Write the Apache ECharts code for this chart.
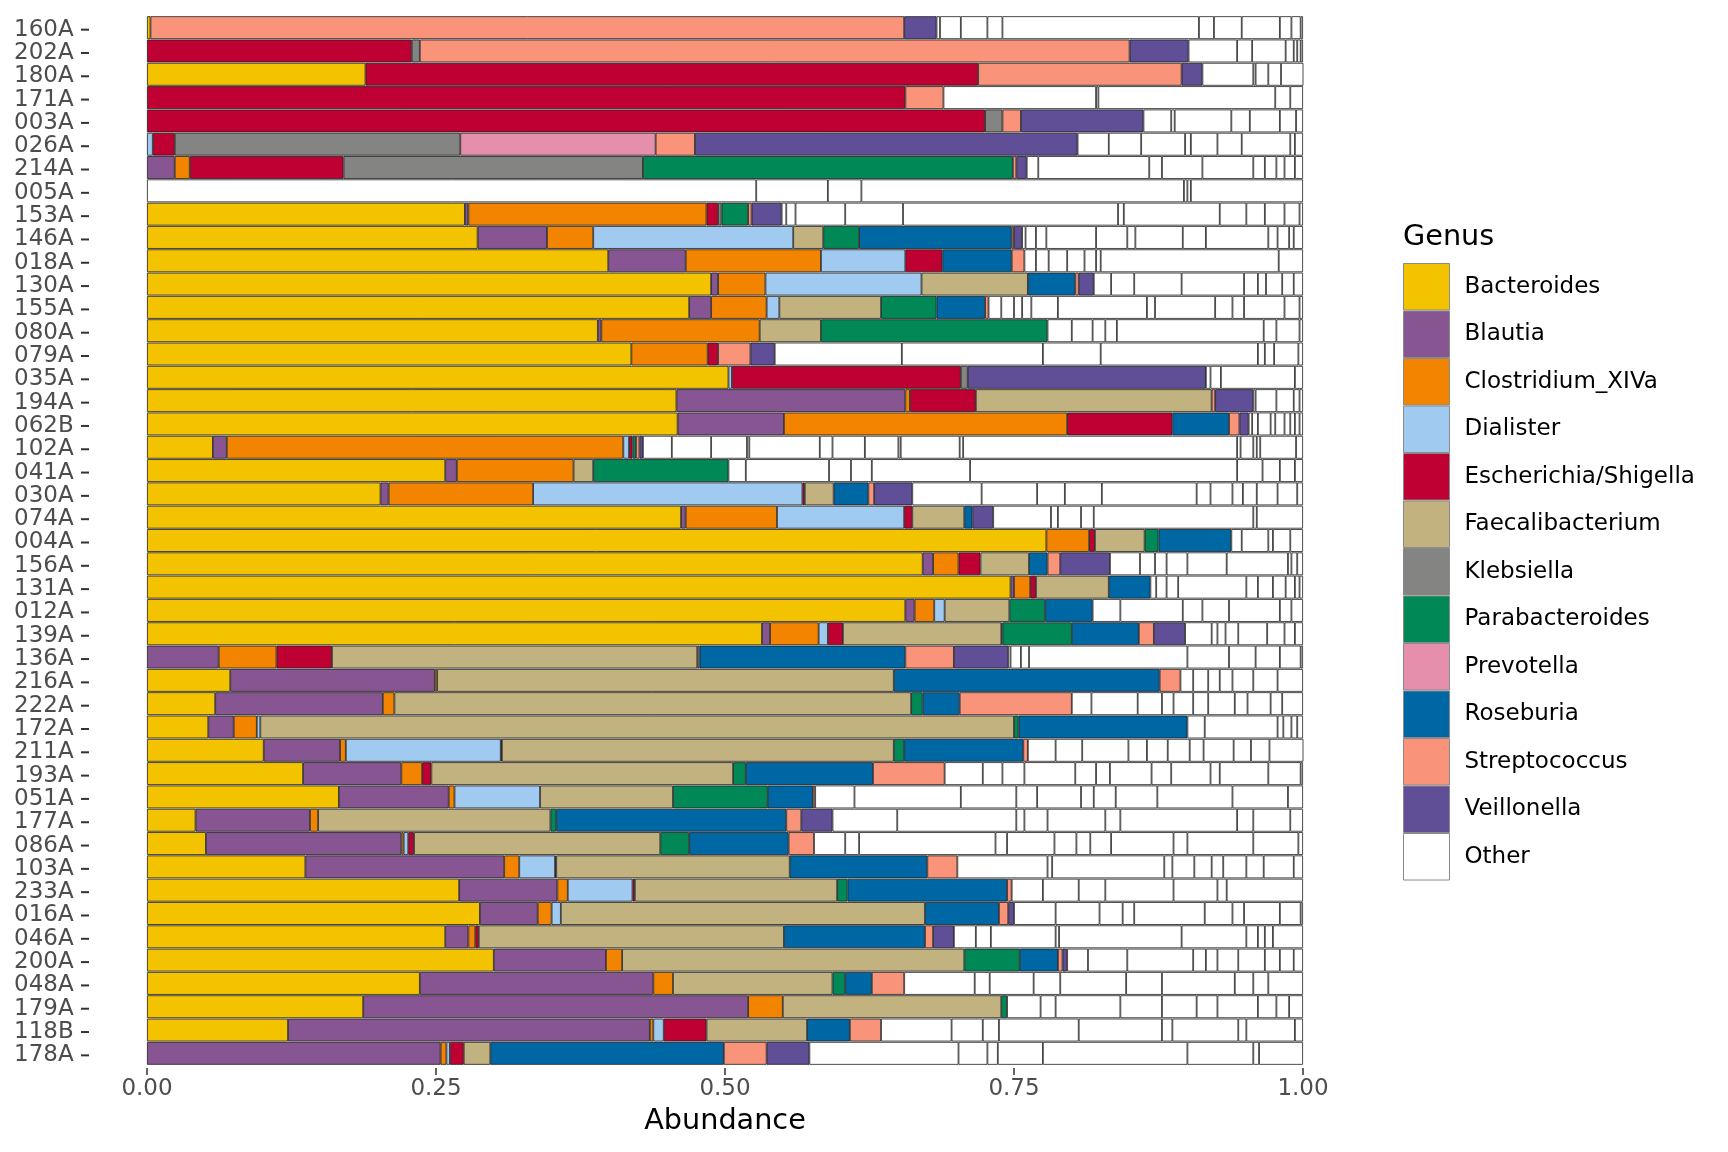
<!DOCTYPE html>
<html>
<head>
<meta charset="utf-8">
<script src="https://cdn.jsdelivr.net/npm/echarts@6/dist/echarts.min.js"></script>
<style>
  html, body { margin: 0; padding: 0; background: #fff; }
  #chart { width: 1728px; height: 1152px; }
</style>
</head>
<body>
<div id="chart"></div>
<script>
// samples, top to bottom
var samples = ['160A','202A','180A','171A','003A','026A','214A','005A','153A','146A',
  '018A','130A','155A','080A','079A','035A','194A','062B','102A','041A',
  '030A','074A','004A','156A','131A','012A','139A','136A','216A','222A',
  '172A','211A','193A','051A','177A','086A','103A','233A','016A','046A',
  '200A','048A','179A','118B','178A'];

var genera = ['Bacteroides','Blautia','Clostridium_XIVa','Dialister','Escherichia/Shigella',
  'Faecalibacterium','Klebsiella','Parabacteroides','Prevotella','Roseburia',
  'Streptococcus','Veillonella'];
var generaColors = ['#F3C300','#875692','#F38400','#A1CAF1','#BE0032','#C2B280',
  '#848482','#008856','#E68FAC','#0067A5','#F99379','#604E97'];

var bacteroides = [0.003,0,0.189,0,0,0,0,0,0.275,0.286,0.399,0.488,0.469,0.390,0.419,0.503,0.458,0.459,0.057,0.258,
  0.202,0.462,0.778,0.671,0.747,0.656,0.532,0,0.072,0.059,0.053,0.101,0.135,0.166,0.042,0.051,0.137,0.270,0.288,0.258,
  0.300,0.236,0.187,0.122,0];
var blautia = [0,0,0,0,0,0,0.024,0,0.003,0.060,0.067,0.006,0.019,0.003,0,0,0.198,0.092,0.012,0.010,
  0.007,0.004,0,0.009,0.003,0.008,0.007,0.062,0.177,0.145,0.022,0.066,0.085,0.095,0.099,0.169,0.172,0.085,0.050,0.020,
  0.097,0.202,0.333,0.313,0.254];
var clostridium = [0,0,0,0,0,0,0.013,0,0.206,0.040,0.117,0.041,0.048,0.137,0.066,0,0.004,0.245,0.343,0.101,
  0.125,0.079,0.037,0.022,0.014,0.017,0.042,0.050,0.002,0.010,0.020,0.005,0.018,0.005,0.007,0.002,0.013,0.009,0.012,0.006,
  0.014,0.017,0.030,0.003,0.005];
var dialister = [0,0,0,0,0,0.005,0,0,0,0.173,0.073,0.135,0.011,0,0,0.003,0,0,0.005,0,
  0.233,0.110,0,0,0,0.009,0.008,0,0,0,0.003,0.134,0,0.074,0,0.004,0.031,0.056,0.008,0,
  0,0,0,0.009,0.003];
var escherichia = [0,0.229,0.530,0.656,0.725,0.019,0.133,0,0.010,0,0.032,0,0,0,0.009,0.198,0.057,0.091,0.003,0,
  0.002,0.007,0.005,0.019,0.005,0,0.013,0.048,0,0,0,0.001,0.008,0,0,0.005,0.001,0.002,0,0.003,
  0,0,0,0.037,0.012];
var faecalibacterium = [0,0,0,0,0,0,0,0,0,0.026,0,0.092,0.088,0.053,0,0,0.204,0,0,0.017,
  0.025,0.045,0.043,0.042,0.063,0.056,0.137,0.316,0.395,0.447,0.652,0.339,0.261,0.115,0.201,0.213,0.202,0.175,0.315,0.264,
  0.296,0.138,0.189,0.087,0.023];
var klebsiella = [0,0.007,0,0,0.015,0.247,0.259,0,0.003,0,0,0,0,0,0,0.006,0,0,0,0,
  0,0,0,0,0,0,0.001,0.002,0,0,0,0,0,0,0,0,0,0,0,0,
  0,0,0,0,0];
var parabacteroides = [0,0,0,0,0,0,0.320,0,0.023,0.031,0,0,0.048,0.196,0,0,0,0,0.003,0.117,
  0,0,0.012,0,0,0.031,0.060,0,0,0.010,0.004,0.009,0.011,0.082,0.005,0.025,0,0.009,0,0,
  0.048,0.011,0.005,0,0];
var prevotella = [0,0,0,0,0,0.169,0,0,0,0,0,0,0,0,0,0,0,0,0,0,
  0,0,0,0,0,0,0,0,0,0,0,0,0,0,0,0,0,0,0,0,
  0,0,0,0,0];
var roseburia = [0,0,0,0,0,0,0,0,0,0.132,0.060,0.041,0.042,0,0,0,0,0.049,0,0,
  0.030,0.007,0.063,0.016,0.036,0.041,0.058,0.178,0.230,0.032,0.146,0.103,0.110,0.039,0.199,0.086,0.119,0.138,0.064,0.122,
  0.033,0.023,0,0.037,0.202];
var streptococcus = [0.652,0.614,0.176,0.033,0.016,0.034,0.003,0,0.003,0.002,0.011,0.003,0.003,0,0.028,0,0.003,0.009,0.003,0,
  0.005,0,0,0.011,0,0,0.013,0.042,0.018,0.097,0,0.004,0.062,0.002,0.013,0.022,0.026,0.004,0.008,0.007,
  0.004,0.028,0,0.027,0.037];
var veillonella = [0.028,0.051,0.018,0,0.106,0.331,0.009,0,0.026,0.007,0,0.013,0,0,0.021,0.206,0.033,0.008,0.003,0,
  0.033,0.018,0,0.043,0,0,0.027,0.047,0,0,0,0,0,0,0.027,0,0,0,0.005,0.018,
  0.004,0,0,0,0.037];

// the many small "Other" genera of each sample, left to right
var otherParts = [
  [0.003,0.018,0.023,0.013,0.170,0.013,0.024,0.033,0.010,0.008,0.002],
  [0.042,0.013,0.029,0.007,0.003,0.003,0.002],
  [0.044,0.002,0.011,0.011,0.020],
  [0.132,0.002,0.153,0.013,0.011],
  [0.024,0.003,0.049,0.016,0.026,0.014,0.006],
  [0.027,0.028,0.038,0.005,0.023,0.021,0.042,0.004,0.007],
  [0.010,0.096,0.011,0.035,0.044,0.010,0.010,0.007,0.009,0.007],
  [0.527,0.062,0.029,0.279,0.003,0.003,0.097],
  [0.004,0.008,0.043,0.050,0.186,0.005,0.083,0.023,0.016,0.017,0.013,0.003],
  [0.003,0.009,0.009,0.043,0.027,0.007,0.041,0.020,0.054,0.008,0.010,0.004,0.008],
  [0.010,0.011,0.016,0.015,0.010,0.004,0.154,0.021],
  [0.015,0.020,0.041,0.054,0.012,0.007,0.014,0.010,0.008],
  [0.011,0.011,0.007,0.008,0.023,0.077,0.007,0.052,0.015,0.010,0.035,0.013,0.003],
  [0.021,0.018,0.011,0.010,0.127,0.011,0.020,0.003],
  [0.110,0.122,0.050,0.136,0.006,0.008,0.021,0.004],
  [0.004,0.009,0.064,0.007],
  [0.002,0.018,0.015,0.005,0.003],
  [0.003,0.005,0.011,0.004,0.008,0.005,0.004,0.004,0.003],
  [0.025,0.034,0.031,0.002,0.061,0.011,0.028,0.029,0.002,0.051,0.003,0.237,0.003,0.011,0.003,0.003,0.031,0.006],
  [0.015,0.072,0.019,0.018,0.085,0.231,0.022,0.015,0.013,0.007],
  [0.060,0.048,0.024,0.032,0.082,0.012,0.019,0.009,0.012,0.018,0.017,0.005],
  [0.050,0.006,0.020,0.011,0.138,0.003,0.040],
  [0.009,0.023,0.004,0.015,0.011],
  [0.026,0.013,0.010,0.018,0.034,0.053,0.003,0.005,0.005],
  [0.005,0.009,0.010,0.059,0.010,0.013,0.011,0.008,0.004,0.003],
  [0.024,0.054,0.017,0.023,0.044,0.010,0.010],
  [0.023,0.005,0.007,0.011,0.025,0.015,0.009,0.007],
  [0.002,0.009,0.007,0.137,0.036,0.023,0.021,0.018,0.002],
  [0.011,0.013,0.010,0.011,0.018,0.021,0.022],
  [0.017,0.040,0.021,0.010,0.017,0.013,0.023,0.011,0.020,0.010,0.018],
  [0.015,0.063,0.005,0.007,0.005,0.005],
  [0.024,0.023,0.040,0.016,0.018,0.019,0.012,0.026,0.015,0.016,0.030],
  [0.033,0.017,0.019,0.044,0.018,0.012,0.036,0.017,0.034,0.008,0.042,0.028,0.002],
  [0.034,0.092,0.048,0.018,0.038,0.011,0.019,0.036,0.065,0.048,0.013],
  [0.056,0.103,0.007,0.020,0.050,0.013,0.101,0.014,0.032,0.011],
  [0.027,0.012,0.118,0.010,0.041,0.019,0.012,0.018,0.054,0.012,0.057,0.039,0.004],
  [0.078,0.004,0.097,0.007,0.019,0.015,0.010,0.020,0.015,0.026,0.008],
  [0.027,0.031,0.023,0.059,0.038,0.008,0.066],
  [0.036,0.038,0.020,0.010,0.061,0.024,0.010,0.031,0.018,0.002],
  [0.019,0.013,0.056,0.003,0.106,0.056,0.010,0.006,0.007,0.026],
  [0.018,0.034,0.057,0.011,0.010,0.018,0.023,0.013,0.012,0.008],
  [0.061,0.013,0.038,0.023,0.057,0.031,0.063,0.016,0.013,0.030],
  [0.029,0.013,0.056,0.036,0.030,0.018,0.035,0.016,0.011,0.012],
  [0.061,0.027,0.014,0.069,0.072,0.009,0.057,0.007,0.042,0.007],
  [0.129,0.025,0.009,0.039,0.125,0.057,0.005,0.038]
];

var xTicks = [0, 0.25, 0.5, 0.75, 1];

var genusValues = [bacteroides, blautia, clostridium, dialister, escherichia, faecalibacterium,
  klebsiella, parabacteroides, prevotella, roseburia, streptococcus, veillonella];

var FONT = 'DejaVu Sans';
var BORDER = '#1e1e1e';
var BORDER_W = 0.8;

function noZero(arr) {
  return arr.map(function (v) { return v > 0 ? v : null; });
}

var series = [];
genera.forEach(function (g, i) {
  series.push({
    name: g,
    type: 'bar',
    stack: 'abund',
    barCategoryGap: '2%',
    data: noZero(genusValues[i]),
    itemStyle: { color: generaColors[i], borderColor: BORDER, borderWidth: BORDER_W }
  });
});

var maxParts = 0;
otherParts.forEach(function (p) { if (p.length > maxParts) maxParts = p.length; });
for (var k = 0; k < maxParts; k++) {
  series.push({
    name: 'Other',
    type: 'bar',
    stack: 'abund',
    barCategoryGap: '2%',
    data: otherParts.map(function (p) { return p[k] !== undefined ? p[k] : null; }),
    itemStyle: { color: '#FFFFFF', borderColor: BORDER, borderWidth: BORDER_W }
  });
}

var chart = echarts.init(document.getElementById('chart'), null, { renderer: 'canvas' });
var option = {
  animation: false,
  backgroundColor: '#FFFFFF',
  textStyle: { fontFamily: FONT },
  title: {
    text: 'Genus',
    left: 1403,
    top: 223,
    padding: 0,
    textStyle: { fontFamily: FONT, fontSize: 28.7, fontWeight: 'normal', color: '#000' }
  },
  legend: {
    orient: 'vertical',
    left: 1403,
    top: 263,
    padding: 0,
    itemWidth: 46,
    itemHeight: 46.5,
    itemGap: 0,
    icon: 'rect',
    selectedMode: false,
    data: genera.concat(['Other']),
    itemStyle: { borderColor: '#8a8a8a', borderWidth: 1 },
    textStyle: { fontFamily: FONT, fontSize: 23, color: '#000', padding: [0, 0, 0, 10] }
  },
  grid: { left: 147, right: 425, top: 16, bottom: 87, containLabel: false },
  xAxis: {
    type: 'value',
    min: xTicks[0],
    max: xTicks[xTicks.length - 1],
    interval: 0.25,
    offset: 3,
    name: 'Abundance',
    nameLocation: 'middle',
    nameGap: 39,
    nameTextStyle: { fontFamily: FONT, fontSize: 28.7, color: '#000' },
    axisLine: { show: false },
    axisTick: { show: true, length: 7, lineStyle: { color: '#333', width: 1.5 } },
    splitLine: { show: false },
    axisLabel: {
      fontFamily: FONT, fontSize: 23, color: '#4D4D4D', margin: 10,
      formatter: function (v) { return v.toFixed(2); }
    }
  },
  yAxis: {
    type: 'category',
    inverse: true,
    data: samples,
    axisLine: { show: false },
    // the ticks sit apart from the bars, so they are drawn after each label
    axisTick: { show: false },
    splitLine: { show: false },
    axisLabel: {
      interval: 0,
      padding: [4, 0, 0, 0],
      fontFamily: FONT, fontSize: 23, color: '#4D4D4D', margin: 58,
      formatter: function (v) { return '{n|' + v + '} {t| }'; },
      rich: {
        n: { fontFamily: FONT, fontSize: 23, color: '#4D4D4D', verticalAlign: 'middle' },
        t: { width: 8, height: 2, lineHeight: 2, fontSize: 2, backgroundColor: '#333', verticalAlign: 'middle' }
      }
    }
  },
  series: series
};
chart.setOption(option);
</script>
</body>
</html>
